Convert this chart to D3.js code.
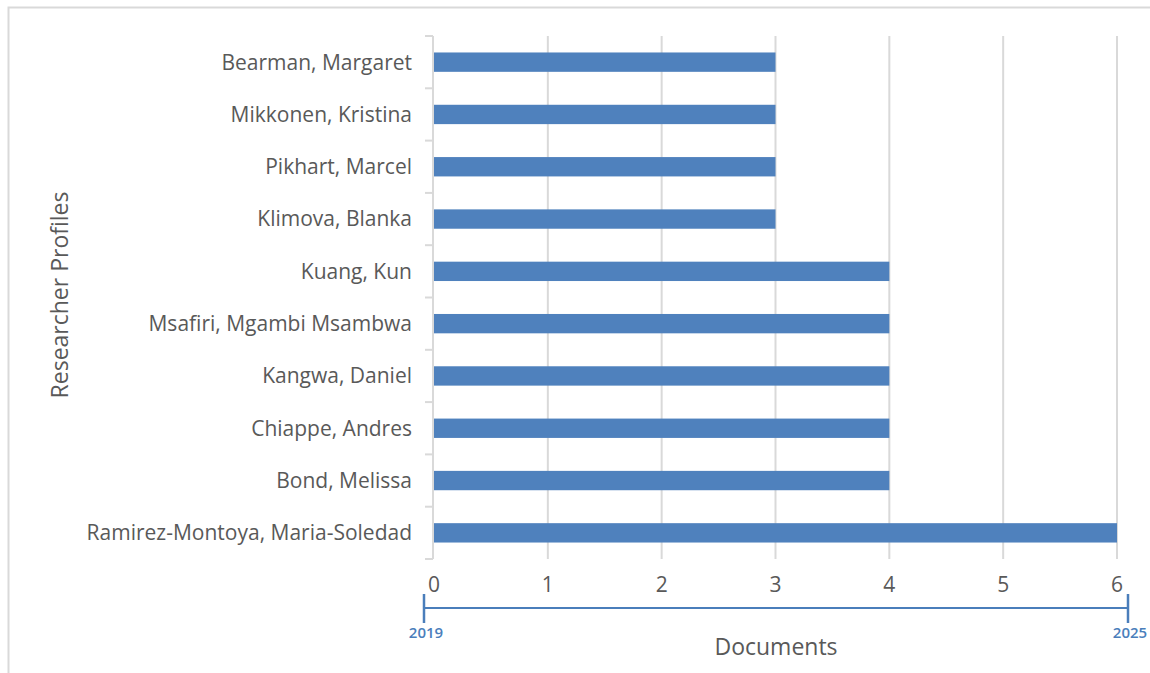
<!DOCTYPE html>
<html>
<head>
<meta charset="utf-8">
<style>
	body { margin: 0; background: #fff; }
	svg text { font-family: "Open Sans", sans-serif; }
</style>
</head>
<body>
<div id="vis-bar"></div>
<script src="https://d3js.org/d3.v7.min.js"></script>
<script>

	// Data //
	// ---- //

	const researchers = [
		"Bearman, Margaret",
		"Mikkonen, Kristina",
		"Pikhart, Marcel",
		"Klimova, Blanka",
		"Kuang, Kun",
		"Msafiri, Mgambi Msambwa",
		"Kangwa, Daniel",
		"Chiappe, Andres",
		"Bond, Melissa",
		"Ramirez-Montoya, Maria-Soledad"
	];
	const documents = [3, 3, 3, 3, 4, 4, 4, 4, 4, 6];
	const xTicks = [0, 1, 2, 3, 4, 5, 6];
	const yearRange = ["2019", "2025"];

	function barvis() {

		// Setup //
		// ----- //

		const W = 1150, H = 673;
		const plot = {left: 434, right: 1117, top: 36, bottom: 559};

		const svg = d3.select("#vis-bar")
			.append("svg")
				.attr("width", W)
				.attr("height", H);

		// frame (only top and left visible)
		svg.append("path")
			.attr("d", "M8.5," + H + " V7.5 H" + W)
			.attr("fill", "none")
			.attr("stroke", "#d9d9d9")
			.attr("stroke-width", 2);

		const x = d3.scaleLinear().domain([0, 6]).range([plot.left, plot.right]);
		const y = d3.scaleBand().domain(researchers).range([plot.top, plot.bottom]).paddingInner(0.63).paddingOuter(0.315);
		const yEdges = d3.scaleLinear().domain([0, researchers.length]).range([plot.top, plot.bottom]);

		// gridlines
		svg.append("g")
			.selectAll("line")
			.data(xTicks.slice(1))
			.enter().append("line")
				.attr("x1", d => x(d)).attr("x2", d => x(d))
				.attr("y1", plot.top).attr("y2", plot.bottom)
				.attr("stroke", "#d9d9d9")
				.attr("stroke-width", 2);

		// bars
		svg.append("g")
			.selectAll("rect")
			.data(researchers)
			.enter().append("rect")
				.attr("x", x(0))
				.attr("y", d => y(d))
				.attr("width", (d, i) => x(documents[i]) - x(0))
				.attr("height", y.bandwidth())
				.attr("fill", "#4f81bd");

		// category axis line + ticks
		svg.append("line")
			.attr("x1", plot.left - 1).attr("x2", plot.left - 1)
			.attr("y1", plot.top).attr("y2", plot.bottom)
			.attr("stroke", "#d9d9d9").attr("stroke-width", 2);
		svg.append("g")
			.selectAll("line")
			.data(d3.range(researchers.length + 1))
			.enter().append("line")
				.attr("x1", plot.left - 9).attr("x2", plot.left - 1)
				.attr("y1", d => yEdges(d)).attr("y2", d => yEdges(d))
				.attr("stroke", "#d9d9d9").attr("stroke-width", 2);

		// category labels
		svg.append("g")
			.selectAll("text")
			.data(researchers)
			.enter().append("text")
				.attr("x", 412)
				.attr("y", d => y(d) + y.bandwidth() / 2)
				.attr("dy", "0.35em")
				.attr("text-anchor", "end")
				.attr("fill", "#595959")
				.style("font-size", "21px")
				.text(d => d);

		// value tick labels
		svg.append("g")
			.selectAll("text")
			.data(xTicks)
			.enter().append("text")
				.attr("x", d => x(d))
				.attr("y", 585)
				.attr("dy", "0.35em")
				.attr("text-anchor", "middle")
				.attr("fill", "#595959")
				.style("font-size", "21px")
				.text(d => d);

		// time axis
		const t = d3.scaleLinear().domain([0, 1]).range([424, 1128]);
		svg.append("line")
			.attr("x1", t(0)).attr("x2", t(1))
			.attr("y1", 608).attr("y2", 608)
			.attr("stroke", "#4a7ebb").attr("stroke-width", 2);
		svg.append("g")
			.selectAll("line")
			.data([0, 1])
			.enter().append("line")
				.attr("x1", d => t(d)).attr("x2", d => t(d))
				.attr("y1", 594).attr("y2", 623)
				.attr("stroke", "#4a7ebb").attr("stroke-width", 2.5);
		svg.append("g")
			.selectAll("text")
			.data(yearRange)
			.enter().append("text")
				.attr("x", (d, i) => t(i) + 2)
				.attr("y", 633)
				.attr("dy", "0.35em")
				.attr("text-anchor", "middle")
				.attr("fill", "#4a7ebb")
				.style("font-size", "15px")
				.style("font-weight", "600")
				.text(d => d);

		// axis titles
		svg.append("text")
			.attr("x", 776).attr("y", 647)
			.attr("dy", "0.35em")
			.attr("text-anchor", "middle")
			.attr("fill", "#595959")
			.style("font-size", "23px")
			.text("Documents");

		svg.append("text")
			.attr("transform", "translate(60,295) rotate(-90)")
			.attr("dy", "0.35em")
			.attr("text-anchor", "middle")
			.attr("fill", "#595959")
			.style("font-size", "23px")
			.text("Researcher Profiles");
	}

	barvis();
</script>
</body>
</html>
